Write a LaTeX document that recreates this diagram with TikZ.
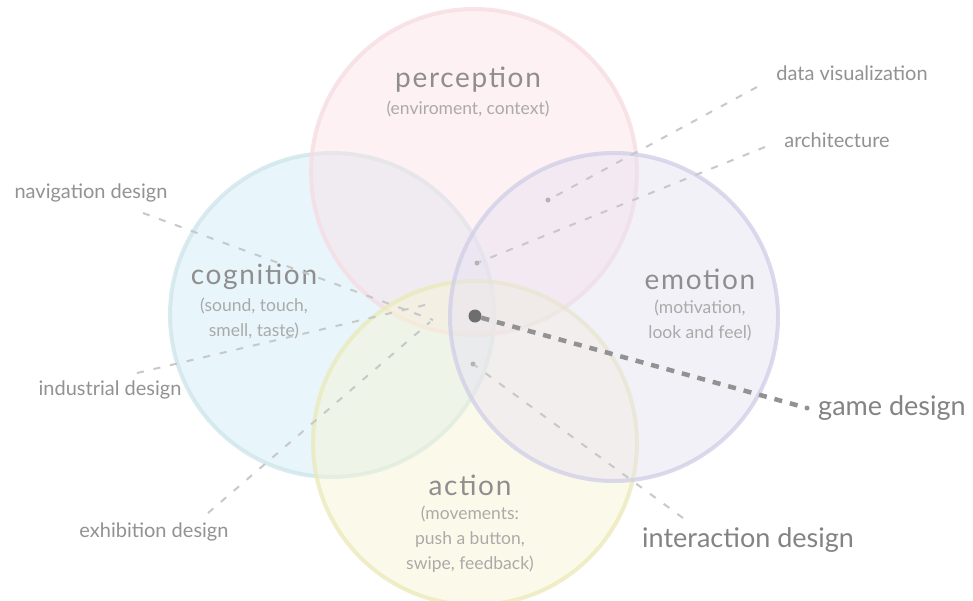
\documentclass[tikz,border=0pt]{standalone}
\usepackage{fontspec}
\setmainfont{Lato}
\begin{document}
\definecolor{percfill}{HTML}{FBE1E6}
\definecolor{percline}{HTML}{F6DCE1}
\definecolor{cogfill}{HTML}{CDEAF7}
\definecolor{cogline}{HTML}{CDE5EA}
\definecolor{emofill}{HTML}{E6E1F1}
\definecolor{emoline}{HTML}{D0CEE7}
\definecolor{actfill}{HTML}{F7F6D2}
\definecolor{actline}{HTML}{EAE9B8}
\definecolor{titlegray}{HTML}{8E8E8E}
\definecolor{subgray}{HTML}{AAAAAA}
\definecolor{labelgray}{HTML}{929292}
\definecolor{dashgray}{HTML}{C8C8C8}
\definecolor{hubgray}{HTML}{6E6E6E}
\begin{tikzpicture}[x=1pt,y=-1pt,
  field/.style={circle,inner sep=0pt,minimum size=#1,line width=4pt,fill opacity=0.45,draw opacity=0.75},
  title/.style={text=titlegray,font=\fontsize{28}{30}\selectfont\addfontfeatures{LetterSpace=6},inner sep=0pt},
  sub/.style={text=subgray,font=\fontsize{17.5}{25}\selectfont,align=center,inner sep=0pt},
  tag/.style={text=labelgray,font=\fontsize{20}{22}\selectfont,inner sep=0pt},
  bigtag/.style={text=labelgray!90!black,font=\fontsize{27}{29}\selectfont,inner sep=0pt},
  link/.style={draw=dashgray,line width=2pt,dash pattern=on 7pt off 10pt},
  gamelink/.style={draw=hubgray!75,line width=4.5pt,dash pattern=on 8pt off 8pt},
  pin/.style={circle,fill=dashgray!90!black,inner sep=0pt,minimum size=5pt},
]
\useasboundingbox[fill=white] (0,0) rectangle (973,600);

% the four overlapping fields
\node[field=324pt,fill=cogfill,draw=cogline]  (cog)  at (332,315) {};
\node[field=326pt,fill=percfill,draw=percline] (perc) at (474,172) {};
\node[field=324pt,fill=actfill,draw=actline]  (act)  at (475,443) {};
\node[field=328pt,fill=emofill,draw=emoline]  (emo)  at (614,317) {};

% field titles
\node[title] (tperc) at (468,80) {perception};
\node[sub]   (sperc) at (468,109) {(enviroment, context)};
\node[title] (tcog)  at (254,277) {cognition};
\node[sub]   (scog)  at (254,318) {(sound, touch,\\smell, taste)};
\node[title] (temo)  at (700,279) {emotion};
\node[sub]   (semo)  at (700,320) {(motivation,\\look and feel)};
\node[title] (tact)  at (470,485) {action};
\node[sub]   (sact)  at (470,539) {(movements:\\push a button,\\swipe, feedback)};

% disciplines around the diagram
\node[tag] (nav)  at (91,193)  {navigation design};
\node[tag] (ind)  at (110,390) {industrial design};
\node[tag] (exh)  at (154,532) {exhibition design};
\node[tag] (dat)  at (852,73)  {data visualization};
\node[tag] (arc)  at (837,140) {architecture};
\node[bigtag,anchor=west] (game) at (818,408) {game design};
\node[bigtag,anchor=west] (inter) at (642,540) {interaction design};

% where each discipline sits
\node[pin] (pdat)   at (548,200) {};
\node[pin] (parc)   at (477,263) {};
\node[pin] (pinter) at (473,364) {};
\coordinate (pnav) at (433,320);
\coordinate (pind) at (425,305);
\coordinate (pexh) at (430,322);

\coordinate (enav)   at (143,213);
\coordinate (eind)   at (137,373);
\coordinate (eexh)   at (208,513);
\coordinate (edat)   at (757,87);
\coordinate (earc)   at (765,147);
\coordinate (einter) at (683,518);
\node[circle,fill=hubgray!75,inner sep=0pt,minimum size=5pt] (egame) at (807,408) {};

\draw[link] (enav) -- (pnav);
\draw[link] (eind) -- (pind);
\draw[link] (eexh) -- (pexh);
\draw[link] (edat) -- (pdat);
\draw[link] (earc) -- (parc);
\draw[link] (einter) -- (pinter);

\node[circle,fill=hubgray,inner sep=0pt,minimum size=13pt] (hub) at (475,316) {};
\draw[gamelink] (hub) -- (egame);
\end{tikzpicture}
\end{document}
